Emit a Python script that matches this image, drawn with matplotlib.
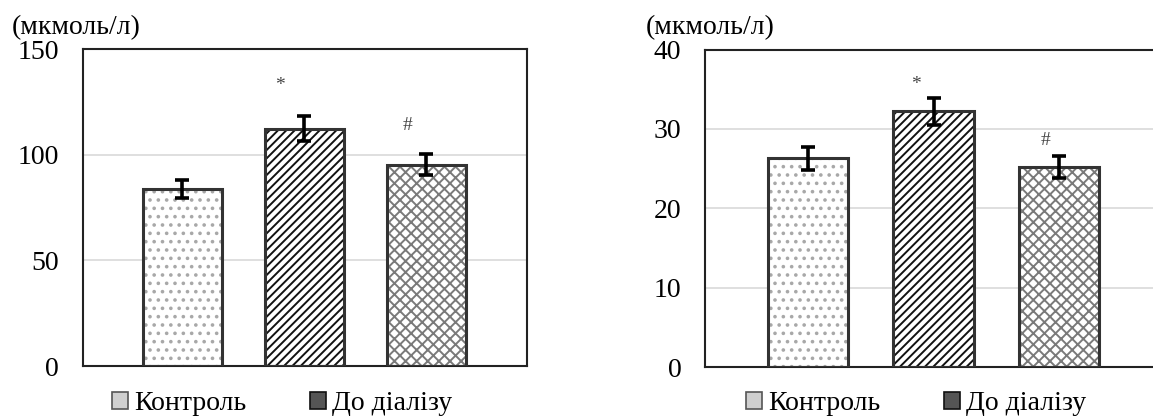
import numpy as np
import matplotlib.pyplot as plt
from matplotlib.patches import Patch

plt.rcParams['font.family'] = ['Liberation Serif', 'DejaVu Serif']
plt.rcParams['hatch.linewidth'] = 1.4

# дані
groups = ['Контроль', 'До діалізу', 'Після діалізу']
left_vals = [83.8, 112.3, 95.3]
left_err = [4.3, 6.0, 5.0]
right_vals = [26.3, 32.25, 25.2]
right_err = [1.45, 1.7, 1.4]
unit = '(мкмоль/л)'

hatches = ['..', '////', 'xxx']
hatch_colors = ['#a8a8a8', '#111111', '#7a7a7a']

fig = plt.figure(figsize=(11.53, 4.16), dpi=100)
ax1 = fig.add_axes([0.0717, 0.120, 0.3856, 0.762])
ax2 = fig.add_axes([0.6114, 0.117, 0.3965, 0.764])


def draw(ax, vals, errs, ymax, step, xlim, marks):
    x = np.arange(len(vals))
    for i in range(len(vals)):
        ax.bar(x[i], vals[i], width=0.64, color='white', hatch=hatches[i],
               edgecolor=hatch_colors[i], linewidth=0, zorder=2)
        ax.bar(x[i], vals[i], width=0.64, fill=False, edgecolor='#333333',
               linewidth=2.2, zorder=3)
    ax.errorbar(x, vals, yerr=errs, fmt='none', ecolor='black',
                elinewidth=2.6, capsize=5, capthick=2.6, zorder=4)
    for mx, my, s in marks:
        ax.text(mx, my, s, ha='center', va='center', fontsize=14, color='#444444')
    ax.set_ylim(0, ymax)
    ax.set_xlim(*xlim)
    ax.set_yticks(np.arange(0, ymax + step, step))
    ax.set_xticks([])
    ax.yaxis.grid(True, color='#d9d9d9', linewidth=1.2)
    ax.set_axisbelow(True)
    ax.tick_params(axis='y', length=0, pad=17, labelsize=20)
    for sp in ax.spines.values():
        sp.set_color('#222222')
        sp.set_linewidth(1.5)


draw(ax1, left_vals, left_err, 150, 50, (-0.818, 2.826),
     [(0.795, 133, '*'), (1.846, 114, '#')])
draw(ax2, right_vals, right_err, 40, 10, (-0.824, 2.824),
     [(0.857, 35.6, '*'), (1.89, 28.5, '#')])

fig.text(11.7 / 1153, 1 - 28 / 416, unit, fontsize=20, va='center', ha='left')
fig.text(646 / 1153, 1 - 28 / 416, unit, fontsize=20, va='center', ha='left')

handles = [Patch(facecolor='#cfcfcf', edgecolor='#555555', linewidth=1.2),
           Patch(facecolor='#555555', edgecolor='#111111', linewidth=1.2)]
for xpos in [111.7, 745.7]:
    fig.legend(handles, groups[:2], loc='center left',
               bbox_to_anchor=(xpos / 1153, 1 - 404 / 416), ncol=2,
               frameon=False, fontsize=20, borderpad=0, borderaxespad=0,
               handlelength=0.58, handleheight=0.58, handletextpad=0.22,
               columnspacing=2.3)

fig.savefig('out.png', dpi=100)
